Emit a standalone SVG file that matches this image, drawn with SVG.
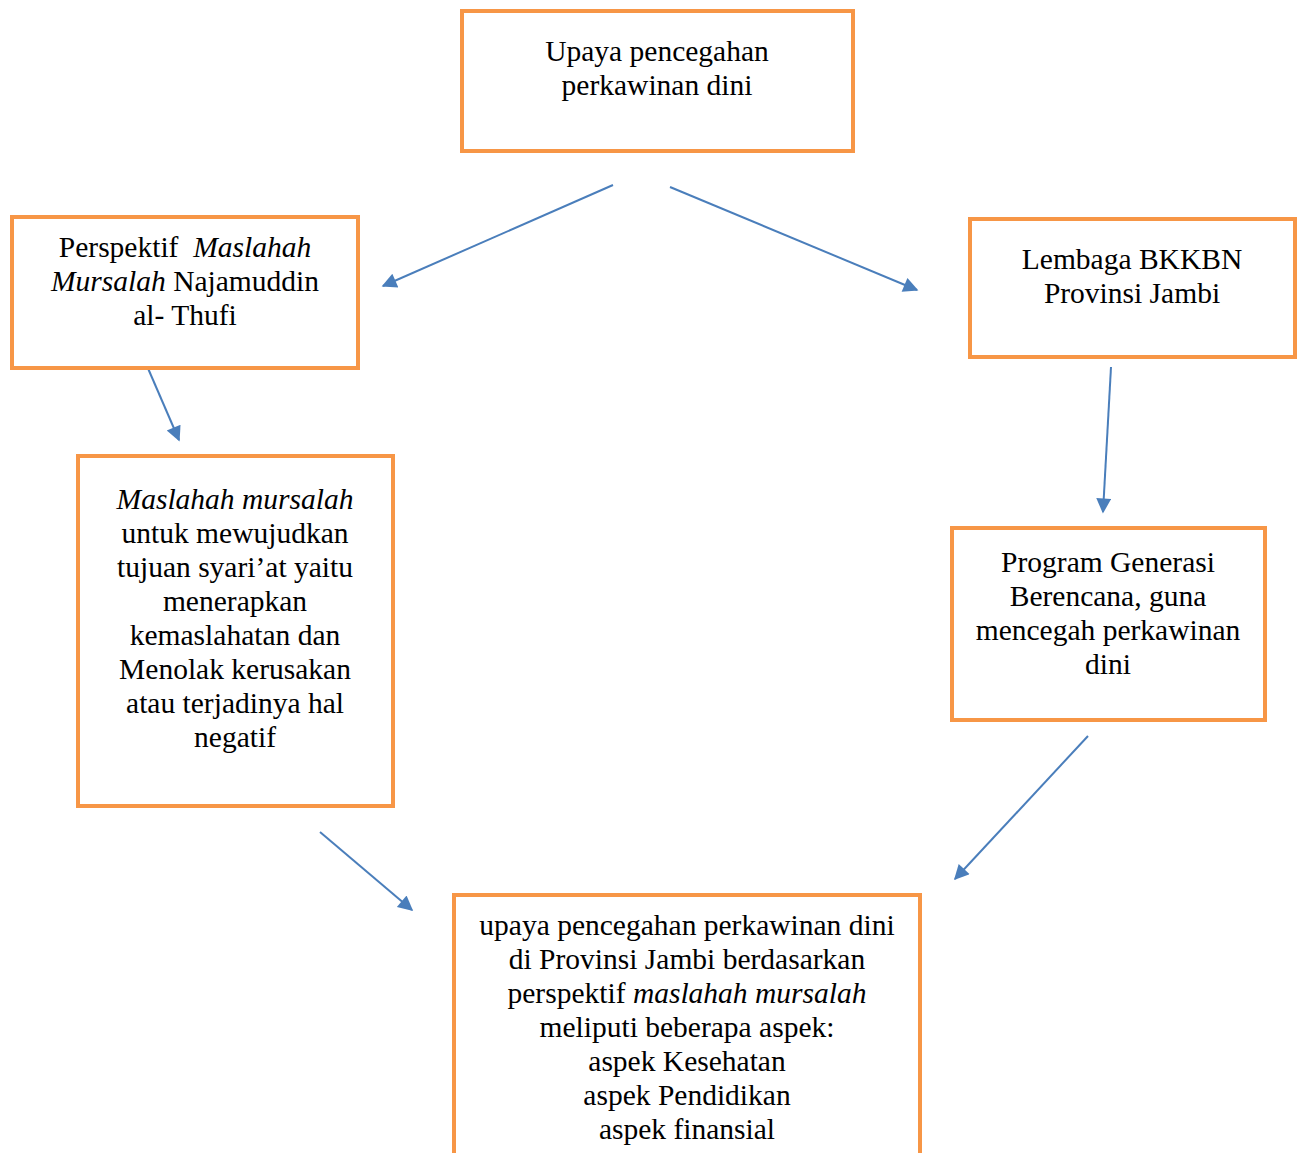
<svg xmlns="http://www.w3.org/2000/svg" width="1302" height="1153" viewBox="0 0 1302 1153">
<style>
.box{fill:#fff;stroke:#F79646;stroke-width:4}
.t{font-family:"Liberation Serif","Times New Roman",serif;font-size:29.5px;fill:#000;text-anchor:middle}
.c{stroke:#4A7EBB;stroke-width:2;fill:none;marker-end:url(#ah)}
</style>
<defs>
<marker id="ah" viewBox="0 0 10 10" refX="9" refY="5" markerWidth="9" markerHeight="7.5" markerUnits="strokeWidth" orient="auto">
<path d="M0,0 L10,5 L0,10 z" fill="#4A7EBB"/>
</marker>
</defs>
<rect width="1302" height="1153" fill="#fff"/>
<g id="connectors">
<line class="c" x1="613" y1="185" x2="383" y2="286"/>
<line class="c" x1="670" y1="187" x2="917" y2="290"/>
<line class="c" x1="147" y1="366" x2="179" y2="440"/>
<line class="c" x1="1111" y1="367" x2="1103" y2="512"/>
<line class="c" x1="1088" y1="736" x2="955" y2="879"/>
<line class="c" x1="320" y1="832" x2="412" y2="910"/>
</g>
<g id="node-top">
<rect class="box" x="462" y="11" width="391" height="140"/>
<text class="t" x="657" y="61">Upaya pencegahan</text>
<text class="t" x="657" y="95">perkawinan dini</text>
</g>
<g id="node-left1">
<rect class="box" x="12" y="217" width="346" height="151"/>
<text class="t" x="185" y="257" xml:space="preserve">Perspektif  <tspan font-style="italic">Maslahah</tspan></text>
<text class="t" x="185" y="291"><tspan font-style="italic">Mursalah</tspan> Najamuddin</text>
<text class="t" x="185" y="325">al- Thufi</text>
</g>
<g id="node-right1">
<rect class="box" x="970" y="219" width="325" height="138"/>
<text class="t" x="1132" y="269">Lembaga BKKBN</text>
<text class="t" x="1132" y="303">Provinsi Jambi</text>
</g>
<g id="node-left2">
<rect class="box" x="78" y="456" width="315" height="350"/>
<text class="t" x="235" y="509" font-style="italic">Maslahah mursalah</text>
<text class="t" x="235" y="543">untuk mewujudkan</text>
<text class="t" x="235" y="577">tujuan syari’at yaitu</text>
<text class="t" x="235" y="611">menerapkan</text>
<text class="t" x="235" y="645">kemaslahatan dan</text>
<text class="t" x="235" y="679">Menolak kerusakan</text>
<text class="t" x="235" y="713">atau terjadinya hal</text>
<text class="t" x="235" y="747">negatif</text>
</g>
<g id="node-right2">
<rect class="box" x="952" y="528" width="313" height="192"/>
<text class="t" x="1108" y="572">Program Generasi</text>
<text class="t" x="1108" y="606">Berencana, guna</text>
<text class="t" x="1108" y="640">mencegah perkawinan</text>
<text class="t" x="1108" y="674">dini</text>
</g>
<g id="node-bottom">
<rect class="box" x="454" y="895" width="466" height="270"/>
<text class="t" x="687" y="935">upaya pencegahan perkawinan dini</text>
<text class="t" x="687" y="969">di Provinsi Jambi berdasarkan</text>
<text class="t" x="687" y="1003">perspektif <tspan font-style="italic">maslahah mursalah</tspan></text>
<text class="t" x="687" y="1037">meliputi beberapa aspek:</text>
<text class="t" x="687" y="1071">aspek Kesehatan</text>
<text class="t" x="687" y="1105">aspek Pendidikan</text>
<text class="t" x="687" y="1139">aspek finansial</text>
</g>
</svg>
